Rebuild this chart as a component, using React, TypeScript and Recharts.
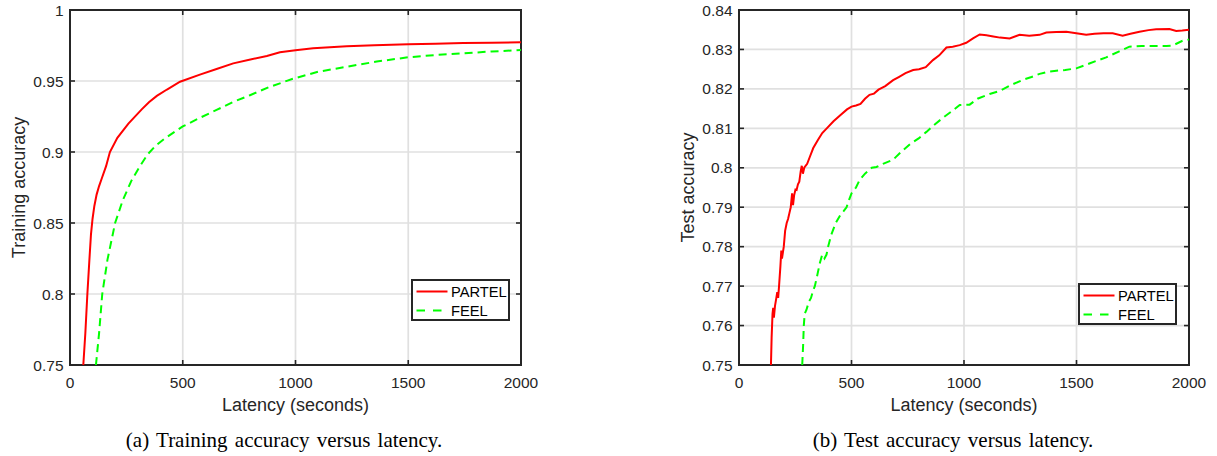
import React from 'react';
import { LineChart, Line, XAxis, YAxis, CartesianGrid, Legend, Label } from 'recharts';

// ---------- data ----------
const xTicks = [0, 500, 1000, 1500, 2000];
const trainYTicks = [0.75, 0.8, 0.85, 0.9, 0.95, 1];
const testYTicks = [0.75, 0.76, 0.77, 0.78, 0.79, 0.8, 0.81, 0.82, 0.83, 0.84];
const seriesNames = ['PARTEL', 'FEEL'];

const trainPartelLatency = [59, 68, 77, 86, 93, 100, 108, 118, 129, 140, 160, 177, 210, 259, 318, 350, 385, 430, 488, 576, 650, 724, 800, 873, 931, 1000, 1078, 1227, 1350, 1500, 1620, 1744, 1870, 2000];
const trainPartelAcc = [0.75, 0.7724, 0.8, 0.824, 0.842, 0.853, 0.862, 0.87, 0.876, 0.881, 0.89, 0.9, 0.91, 0.92, 0.93, 0.935, 0.9395, 0.944, 0.9495, 0.9545, 0.9585, 0.9624, 0.9652, 0.9676, 0.9702, 0.9716, 0.973, 0.9745, 0.9752, 0.9758, 0.9763, 0.9767, 0.977, 0.9773];

const trainFeelLatency = [115, 129, 143, 166, 200, 234, 273, 310, 345, 380, 420, 500, 575, 650, 720, 798, 880, 985, 1100, 1227, 1360, 1500, 1620, 1745, 1870, 2000];
const trainFeelAcc = [0.75, 0.7724, 0.8, 0.824, 0.85, 0.866, 0.88, 0.89, 0.8985, 0.9045, 0.9095, 0.918, 0.924, 0.9296, 0.935, 0.94, 0.9455, 0.9514, 0.9565, 0.96, 0.9637, 0.9667, 0.9683, 0.9695, 0.9708, 0.9718];

const testPartelLatency = [142, 145, 149, 152, 155, 160, 166, 170, 174, 178, 184, 188, 191, 195, 199, 205, 212, 218, 224, 230, 236, 240, 245, 251, 256, 262, 268, 274, 279, 284, 290, 296, 303, 315, 330, 350, 370, 390, 420, 450, 480, 500, 520, 540, 560, 580, 600, 620, 650, 685, 710, 740, 774, 800, 830, 862, 890, 922, 950, 981, 1010, 1040, 1070, 1100, 1130, 1160, 1203, 1247, 1290, 1336, 1366, 1410, 1455, 1499, 1543, 1580, 1620, 1661, 1705, 1740, 1780, 1820, 1854, 1913, 1943, 1970, 2000];
const testPartelAcc = [0.75, 0.757, 0.763, 0.7645, 0.762, 0.765, 0.767, 0.7685, 0.767, 0.77, 0.775, 0.779, 0.777, 0.7785, 0.78, 0.784, 0.786, 0.787, 0.7885, 0.79, 0.7935, 0.7905, 0.793, 0.7945, 0.7944, 0.7958, 0.7965, 0.799, 0.8005, 0.7985, 0.8, 0.8005, 0.801, 0.8028, 0.805, 0.807, 0.8088, 0.81, 0.8118, 0.8133, 0.8148, 0.8155, 0.8158, 0.8162, 0.8175, 0.8185, 0.8188, 0.8198, 0.8207, 0.8222, 0.823, 0.824, 0.8248, 0.825, 0.8255, 0.8273, 0.8285, 0.8305, 0.8307, 0.8311, 0.8317, 0.8328, 0.8338, 0.8336, 0.8333, 0.833, 0.8328, 0.8337, 0.8335, 0.8337, 0.8343, 0.8344, 0.8345, 0.8341, 0.8337, 0.834, 0.8341, 0.8341, 0.8335, 0.834, 0.8345, 0.8349, 0.8351, 0.8352, 0.8347, 0.8348, 0.835];

const testFeelLatency = [281, 285, 288, 292, 300, 310, 320, 330, 337, 345, 360, 370, 380, 389, 396, 410, 430, 450, 465, 478, 490, 500, 520, 537, 560, 590, 611, 640, 684, 720, 760, 800, 833, 870, 914, 950, 981, 1025, 1060, 1114, 1160, 1210, 1262, 1300, 1336, 1370, 1410, 1450, 1499, 1560, 1632, 1690, 1735, 1790, 1854, 1900, 1928, 1971, 2000];
const testFeelAcc = [0.75, 0.755, 0.76, 0.763, 0.764, 0.766, 0.767, 0.769, 0.77, 0.772, 0.776, 0.778, 0.777, 0.778, 0.78, 0.783, 0.786, 0.788, 0.789, 0.79, 0.792, 0.7935, 0.795, 0.797, 0.7985, 0.8, 0.8002, 0.801, 0.802, 0.804, 0.806, 0.8075, 0.8091, 0.811, 0.813, 0.8145, 0.8159, 0.816, 0.8175, 0.8187, 0.8195, 0.821, 0.8223, 0.823, 0.8238, 0.8243, 0.8246, 0.8248, 0.8252, 0.8265, 0.828, 0.8295, 0.8307, 0.8309, 0.8309, 0.8309, 0.831, 0.8322, 0.8325];

const zip = (lat: number[], acc: number[]) => lat.map((l, i) => ({ lat: l, acc: acc[i] }));

// ---------- style ----------
const AX = '#262626';
const GRID = '#e0e0e0';
const SANS = '"Liberation Sans", Arial, Helvetica, sans-serif';
const SERIF = '"Liberation Serif", "Times New Roman", serif';
const TICK_FS = 15.5;
const LABEL_FS = 18;
const RED = '#ff0000';
const GREEN = '#00ff00';
const TICK_LEN = 5;

const fmt = (v: number) => String(Math.round(v * 1000) / 1000);

function BottomTick(props: any) {
  const { x, y, payload } = props;
  return (
    <text x={x} y={y + 23} textAnchor="middle" fontSize={TICK_FS} fontFamily={SANS} fill={AX}>
      {fmt(payload.value)}
    </text>
  );
}
function LeftTick(props: any) {
  const { x, y, payload } = props;
  return (
    <text x={x - 6.5} y={y + TICK_FS * 0.36} textAnchor="end" fontSize={TICK_FS} fontFamily={SANS} fill={AX}>
      {fmt(payload.value)}
    </text>
  );
}

// grid lines with the MATLAB-style box and inward tick marks drawn along each one
const makeHorizontal = (count: number) => (props: any) => {
  const { x1, x2, y1, index } = props;
  const boundary = index === 0 || index === count - 1;
  if (boundary) {
    return <line key={props.key} x1={x1 - 1} x2={x2 + 1} y1={y1} y2={y1} stroke={AX} strokeWidth={2} />;
  }
  return (
    <g key={props.key}>
      <line x1={x1} x2={x2} y1={y1} y2={y1} stroke={GRID} strokeWidth={1.7} />
      <line x1={x1} x2={x1 + TICK_LEN} y1={y1} y2={y1} stroke={AX} strokeWidth={1.6} />
      <line x1={x2 - TICK_LEN} x2={x2} y1={y1} y2={y1} stroke={AX} strokeWidth={1.6} />
    </g>
  );
};
const makeVertical = (count: number) => (props: any) => {
  const { x1, y1, y2, index } = props;
  const top = Math.min(y1, y2);
  const bottom = Math.max(y1, y2);
  const boundary = index === 0 || index === count - 1;
  if (boundary) {
    return <line key={props.key} x1={x1} x2={x1} y1={top - 1} y2={bottom + 1} stroke={AX} strokeWidth={2} />;
  }
  return (
    <g key={props.key}>
      <line x1={x1} x2={x1} y1={top + 1} y2={bottom - 1} stroke={GRID} strokeWidth={1.7} />
      <line x1={x1} x2={x1} y1={top} y2={top + TICK_LEN} stroke={AX} strokeWidth={1.6} />
      <line x1={x1} x2={x1} y1={bottom - TICK_LEN} y2={bottom} stroke={AX} strokeWidth={1.6} />
    </g>
  );
};

const xLabel = (text: string) => (props: any) => {
  const vb = props.viewBox;
  return (
    <text x={vb.x + vb.width / 2} y={vb.y + 46} textAnchor="middle" fontSize={LABEL_FS} fontFamily={SANS} fill={AX}>
      {text}
    </text>
  );
};
const yLabel = (text: string) => (props: any) => {
  const vb = props.viewBox;
  const cx = vb.x + 25;
  const cy = vb.y + vb.height / 2;
  return (
    <text x={cx} y={cy} transform={`rotate(-90 ${cx} ${cy})`} textAnchor="middle" fontSize={LABEL_FS} fontFamily={SANS} fill={AX}>
      {text}
    </text>
  );
};

function LegendBox(props: any) {
  const payload = [...(props.payload || [])].sort(
    (a: any, b: any) => seriesNames.indexOf(a.value) - seriesNames.indexOf(b.value)
  );
  return (
    <div
      style={{
        width: 99,
        height: 42,
        boxSizing: 'border-box',
        border: `2px solid ${AX}`,
        background: '#fff',
        position: 'relative',
      }}
    >
      <svg width={95} height={38} style={{ position: 'absolute', left: 0, top: 0 }}>
        {payload.map((entry: any, i: number) => {
          const cy = 10.5 + i * 19;
          const dashed = entry.payload && entry.payload.strokeDasharray;
          return (
            <g key={i}>
              <path d={`M3.5,${cy}H34.5`} stroke={entry.color} strokeWidth={2} strokeDasharray={dashed ? '8.5 8' : undefined} fill="none" />
              <text x={38} y={cy + 14.7 * 0.36} fontSize={14.7} fontFamily={SANS} fill="#000">
                {entry.value}
              </text>
            </g>
          );
        })}
      </svg>
    </div>
  );
}

type PanelProps = {
  left: number;
  rightMargin: number;
  yTicks: number[];
  yDomain: [number, number];
  yText: string;
  partel: { lat: number; acc: number }[];
  feel: { lat: number; acc: number }[];
  legendLeft: number;
  legendTop: number;
};

function Panel(p: PanelProps) {
  return (
    <div style={{ position: 'absolute', left: p.left, top: 0 }}>
      <LineChart width={540} height={456} margin={{ top: 10, right: p.rightMargin, left: 0, bottom: 61 }}>
        <CartesianGrid
          horizontalValues={p.yTicks}
          verticalValues={xTicks}
          horizontal={makeHorizontal(p.yTicks.length)}
          vertical={makeVertical(xTicks.length)}
        />
        <Line
          data={p.partel}
          dataKey="acc"
          name={seriesNames[0]}
          type="linear"
          stroke={RED}
          strokeWidth={2}
          dot={false}
          activeDot={false}
          isAnimationActive={false}
        />
        <Line
          data={p.feel}
          dataKey="acc"
          name={seriesNames[1]}
          type="linear"
          stroke={GREEN}
          strokeWidth={2}
          strokeDasharray="8 5"
          dot={false}
          activeDot={false}
          isAnimationActive={false}
        />
        <XAxis
          dataKey="lat"
          type="number"
          domain={[0, 2000]}
          ticks={xTicks}
          interval={0}
          allowDataOverflow
          height={30}
          tickSize={0}
          tickMargin={0}
          tickLine={false}
          tick={<BottomTick />}
          axisLine={false}
        >
          <Label content={xLabel('Latency (seconds)')} />
        </XAxis>
        <YAxis
          type="number"
          domain={p.yDomain}
          ticks={p.yTicks}
          interval={0}
          allowDataOverflow
          width={70}
          tickSize={0}
          tickMargin={0}
          tickLine={false}
          tick={<LeftTick />}
          axisLine={false}
        >
          <Label content={yLabel(p.yText)} />
        </YAxis>
        <Legend
          layout="horizontal"
          verticalAlign="middle"
          align="center"
          content={<LegendBox />}
          wrapperStyle={{ left: p.legendLeft, top: p.legendTop, width: 99, height: 42 }}
        />
      </LineChart>
    </div>
  );
}

export default function App() {
  return (
    <div style={{ position: 'absolute', left: 0, top: 0, width: 1217, height: 456, background: '#fff' }}>
      <Panel
        left={0}
        rightMargin={19}
        yTicks={trainYTicks}
        yDomain={[0.75, 1]}
        yText="Training accuracy"
        partel={zip(trainPartelLatency, trainPartelAcc)}
        feel={zip(trainFeelLatency, trainFeelAcc)}
        legendLeft={411}
        legendTop={279}
      />
      <Panel
        left={669}
        rightMargin={20}
        yTicks={testYTicks}
        yDomain={[0.75, 0.84]}
        yText="Test accuracy"
        partel={zip(testPartelLatency, testPartelAcc)}
        feel={zip(testFeelLatency, testFeelAcc)}
        legendLeft={409}
        legendTop={283}
      />
      <svg width={1217} height={456} style={{ position: 'absolute', left: 0, top: 0, pointerEvents: 'none' }}>
        <text x={284} y={447} textAnchor="middle" fontSize={21} fontFamily={SERIF} fill="#000" style={{ wordSpacing: '2px' }}>
          (a) Training accuracy versus latency.
        </text>
        <text x={953} y={447} textAnchor="middle" fontSize={21} fontFamily={SERIF} fill="#000" style={{ wordSpacing: '2px' }}>
          (b) Test accuracy versus latency.
        </text>
      </svg>
    </div>
  );
}
